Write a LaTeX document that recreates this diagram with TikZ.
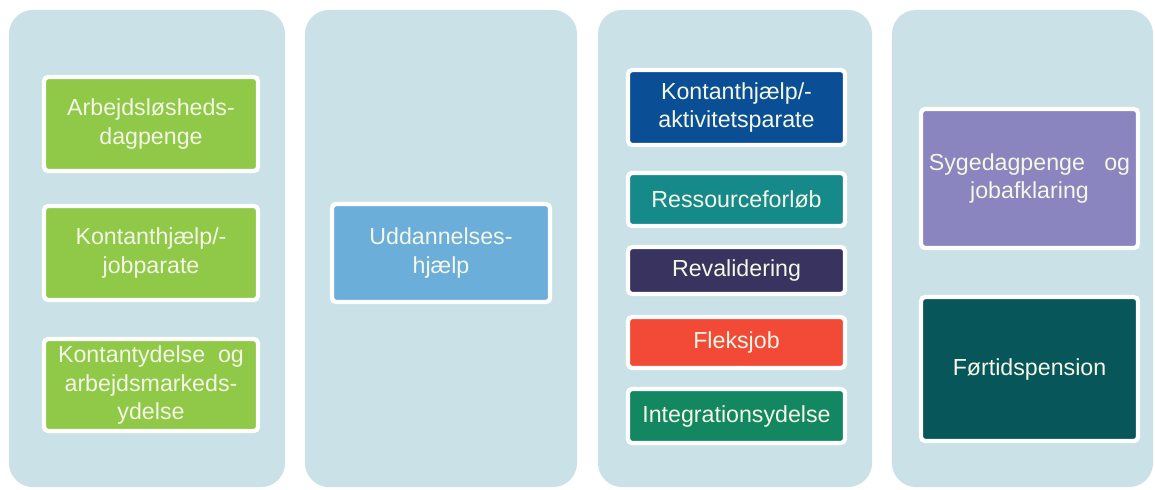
\documentclass[tikz,border=0pt]{standalone}
\usepackage{fontspec}
\setmainfont{Liberation Sans}
\usepackage{tikz}

\definecolor{panelbg}{HTML}{CAE2E7}
\definecolor{boxtext}{HTML}{F4F7E6}
\definecolor{ydgreen}{HTML}{90C847}
\definecolor{ydblue}{HTML}{6BAEDA}
\definecolor{ydnavy}{HTML}{0A4F95}
\definecolor{ydteal}{HTML}{168A8B}
\definecolor{ydpurple}{HTML}{39335F}
\definecolor{ydred}{HTML}{F24A37}
\definecolor{ydemerald}{HTML}{138761}
\definecolor{ydlavender}{HTML}{8A84BF}
\definecolor{yddark}{HTML}{06565A}

\begin{document}
\begin{tikzpicture}[x=0.025cm, y=-0.025cm,
        font = \fontsize{16.5}{20}\selectfont,
        panel/.style = {fill=panelbg, rounded corners=0.6cm, inner sep=0pt, minimum height=11.925cm},
        ydbox/.style = {draw=white, line width=3pt, rounded corners=3pt, text=boxtext, align=center, inner sep=0pt}]
        \useasboundingbox (0,0) rectangle (1155,489);

        % columns
        \node[panel, minimum width=6.9cm]   (col1) at (147,248.5) {};
        \node[panel, minimum width=6.8cm]   (col2) at (441,248.5) {};
        \node[panel, minimum width=6.85cm]  (col3) at (735,248.5) {};
        \node[panel, minimum width=6.525cm] (col4) at (1022.5,248.5) {};

        % first column
        \node[ydbox, fill=ydgreen, minimum width=5.35cm, minimum height=2.35cm] (dagpenge) at (151,124) {Arbejdsløsheds-\\dagpenge};
        \node[ydbox, fill=ydgreen, minimum width=5.35cm, minimum height=2.35cm] (jobparate) at (151,253) {Kontanthjælp/-\\jobparate};
        \node[ydbox, fill=ydgreen, minimum width=5.35cm, minimum height=2.3cm] (kontantydelse) at (151,385) {Kontantydelse\ \ og\\arbejdsmarkeds-\\ydelse};

        % second column
        \node[ydbox, fill=ydblue, minimum width=5.45cm, minimum height=2.45cm] (uddannelse) at (441,253) {Uddannelses-\\hjælp};

        % third column
        \node[ydbox, fill=ydnavy, minimum width=5.425cm, minimum height=1.875cm] (aktivitet) at (736.5,107.5) {Kontanthjælp/-\\aktivitetsparate};
        \node[ydbox, fill=ydteal, minimum width=5.425cm, minimum height=1.325cm] (ressource) at (736.5,199.5) {Ressourceforløb};
        \node[ydbox, fill=ydpurple, minimum width=5.425cm, minimum height=1.175cm] (revalidering) at (736.5,270.5) {Revalidering};
        \node[ydbox, fill=ydred, minimum width=5.425cm, minimum height=1.275cm] (fleksjob) at (736.5,342.5) {Fleksjob};
        \node[ydbox, fill=ydemerald, minimum width=5.425cm, minimum height=1.35cm] (integration) at (736.5,416) {Integrationsydelse};

        % fourth column
        \node[ydbox, fill=ydlavender, minimum width=5.425cm, minimum height=3.475cm] (sygedagpenge) at (1029.5,178.5) {Sygedagpenge\ \ \ og\\jobafklaring};
        \node[ydbox, fill=yddark, minimum width=5.425cm, minimum height=3.6cm] (foertid) at (1029.5,369) {Førtidspension};
\end{tikzpicture}
\end{document}
